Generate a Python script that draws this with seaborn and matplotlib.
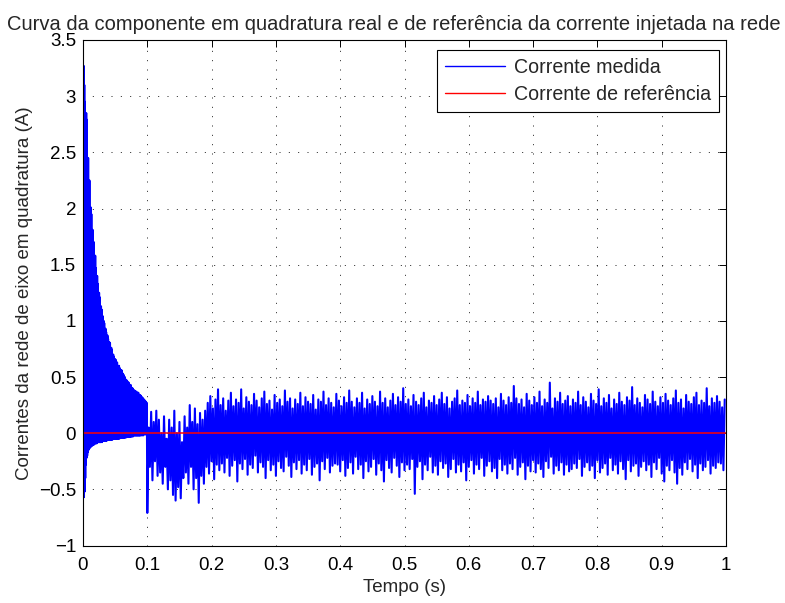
import numpy as np
import pandas as pd
import matplotlib
matplotlib.use("Agg")
import matplotlib.pyplot as plt
import seaborn as sns

# ---- data ----
# transient (0 .. 0.1 s): peaks every 1 ms, troughs half a ms later
trans_hi = [0.35, 3.27, 3.1, 2.95, 2.6, 2.85, 2.79, 2.3, 2.45, 2.15,
            2.25, 1.9, 2.01, 1.95, 1.7, 1.81, 1.62, 1.7, 1.5, 1.58,
            1.47, 1.3, 1.4, 1.33, 1.15, 1.25, 1.21, 1.05, 1.13, 1.1,
            0.95, 1.04, 1.0, 0.98, 0.85, 0.93, 0.9, 0.78, 0.87, 0.84,
            0.72, 0.81, 0.8, 0.7, 0.76, 0.74, 0.62, 0.7, 0.68, 0.58,
            0.66, 0.65, 0.55, 0.63, 0.6, 0.5, 0.6, 0.58, 0.47, 0.56,
            0.56, 0.45, 0.53, 0.52, 0.42, 0.5, 0.48, 0.4, 0.47, 0.46,
            0.38, 0.45, 0.43, 0.36, 0.43, 0.41, 0.33, 0.4, 0.39, 0.3,
            0.38, 0.37, 0.3, 0.37, 0.36, 0.28, 0.36, 0.34, 0.27, 0.34,
            0.33, 0.26, 0.32, 0.31, 0.24, 0.3, 0.29, 0.23, 0.28, 0.27]
trans_lo = [-0.32, -0.57, -0.52, -0.4, -0.28, -0.22, -0.2, -0.17, -0.15, -0.14,
            -0.13, -0.12, -0.12, -0.11, -0.11, -0.1, -0.1, -0.1, -0.09, -0.09,
            -0.09, -0.09, -0.08, -0.08, -0.08, -0.08, -0.08, -0.08, -0.07, -0.08,
            -0.07, -0.07, -0.07, -0.07, -0.07, -0.06, -0.07, -0.06, -0.06, -0.06,
            -0.06, -0.06, -0.06, -0.06, -0.05, -0.06, -0.05, -0.05, -0.05, -0.05,
            -0.05, -0.05, -0.05, -0.05, -0.05, -0.04, -0.05, -0.04, -0.04, -0.04,
            -0.04, -0.04, -0.04, -0.04, -0.04, -0.03, -0.04, -0.03, -0.03, -0.03,
            -0.03, -0.03, -0.03, -0.03, -0.03, -0.03, -0.02, -0.03, -0.02, -0.02,
            -0.02, -0.02, -0.02, -0.02, -0.02, -0.02, -0.02, -0.02, -0.02, -0.02,
            -0.01, -0.02, -0.01, -0.02, -0.01, -0.01, -0.01, -0.01, -0.01, -0.01]

# after 0.1 s: troughs every 4 ms from 0.100 s, peaks 2 ms later
post_lo = [-0.71, -0.3, -0.42, -0.25, -0.38,
           -0.35, -0.45, -0.3, -0.5, -0.42, -0.55, -0.6, -0.48, -0.58, -0.4,
           -0.35, -0.45, -0.3, -0.5, -0.4, -0.62, -0.38, -0.45,
           -0.3, -0.36, -0.25, -0.41, -0.28, -0.33, -0.27, -0.35, -0.22, -0.38,
           -0.29, -0.24, -0.43, -0.27, -0.32, -0.23, -0.37, -0.28, -0.31, -0.2,
           -0.35, -0.26, -0.3, -0.4, -0.24, -0.33, -0.28, -0.38, -0.25, -0.31,
           -0.34, -0.21, -0.29, -0.39, -0.26, -0.32, -0.24, -0.36, -0.28, -0.33,
           -0.23, -0.37, -0.3, -0.27, -0.42, -0.25, -0.32, -0.22, -0.35, -0.29,
           -0.27, -0.28, -0.34, -0.24, -0.38, -0.31, -0.26, -0.36, -0.21, -0.32,
           -0.28, -0.4, -0.25, -0.34, -0.3, -0.23, -0.37, -0.27, -0.33, -0.43,
           -0.24, -0.31, -0.35, -0.22, -0.29, -0.39, -0.26, -0.33, -0.28, -0.32,
           -0.23, -0.54, -0.3, -0.25, -0.41, -0.28, -0.33, -0.21, -0.35, -0.29,
           -0.37, -0.25, -0.31, -0.27, -0.39, -0.32, -0.23, -0.35, -0.28, -0.34,
           -0.26, -0.42, -0.3, -0.24, -0.36, -0.28, -0.32, -0.22, -0.38, -0.29,
           -0.25, -0.34, -0.31, -0.4, -0.23, -0.33, -0.28, -0.36, -0.27, -0.32,
           -0.22, -0.37, -0.3, -0.26, -0.41, -0.29, -0.34, -0.24, -0.35, -0.27,
           -0.32, -0.39, -0.25, -0.31, -0.21, -0.36, -0.29, -0.33, -0.26, -0.37,
           -0.28, -0.34, -0.32, -0.27, -0.31, -0.23, -0.38, -0.3, -0.26, -0.33,
           -0.29, -0.4, -0.24, -0.35, -0.31, -0.27, -0.37, -0.22, -0.33, -0.28,
           -0.36, -0.25, -0.32, -0.41, -0.24, -0.34, -0.29, -0.27, -0.38, -0.3,
           -0.25, -0.33, -0.28, -0.39, -0.26, -0.32, -0.22, -0.36, -0.43, -0.29,
           -0.33, -0.24, -0.35, -0.45, -0.31, -0.37, -0.26, -0.32, -0.23, -0.34,
           -0.28, -0.4, -0.27, -0.33, -0.3, -0.24, -0.36, -0.29, -0.31, -0.26,
           -0.27, -0.33]
post_hi = [0.05, 0.19, 0.1, 0.2, 0.12,
           0.0, 0.15, -0.05, 0.12, 0.05, 0.2, 0.0, 0.1, -0.08, 0.15,
           0.05, 0.25, 0.1, 0.22, 0.08, 0.18, 0.12, 0.2,
           0.27, 0.33, 0.22, 0.3, 0.39, 0.25, 0.31, 0.2, 0.29, 0.36,
           0.24, 0.3, 0.27, 0.39, 0.22, 0.32, 0.28, 0.25, 0.35, 0.29,
           0.23, 0.31, 0.37, 0.26, 0.29, 0.21, 0.34, 0.27, 0.3, 0.24,
           0.38, 0.28, 0.31, 0.22, 0.3, 0.26, 0.36, 0.24, 0.32, 0.28,
           0.26, 0.34, 0.21, 0.3, 0.28, 0.37, 0.25, 0.31, 0.27, 0.23,
           0.35, 0.29, 0.24, 0.32, 0.27, 0.38, 0.28, 0.23, 0.31, 0.27,
           0.36, 0.22, 0.3, 0.26, 0.33, 0.28, 0.24, 0.37, 0.27, 0.31,
           0.23, 0.29, 0.35, 0.25, 0.32, 0.28, 0.4, 0.26, 0.3, 0.24,
           0.34, 0.28, 0.25, 0.31, 0.36, 0.23, 0.29, 0.27, 0.33, 0.25,
           0.3, 0.36, 0.26, 0.32, 0.22, 0.28, 0.31, 0.38, 0.25, 0.29,
           0.27, 0.34, 0.24, 0.31, 0.27, 0.37, 0.25, 0.3, 0.28, 0.33,
           0.29, 0.26, 0.31, 0.23, 0.35, 0.29, 0.25, 0.32, 0.27, 0.42,
           0.31, 0.26, 0.3, 0.23, 0.35, 0.29, 0.25, 0.32, 0.27, 0.37,
           0.24, 0.3, 0.27, 0.45, 0.22, 0.31, 0.28, 0.36, 0.26, 0.29,
           0.33, 0.24, 0.3, 0.27, 0.37, 0.25, 0.32, 0.28, 0.23, 0.35,
           0.29, 0.26, 0.39, 0.24, 0.31, 0.27, 0.34, 0.22, 0.3, 0.26,
           0.36, 0.28, 0.25, 0.32, 0.29, 0.41, 0.25, 0.31, 0.27, 0.23,
           0.34, 0.3, 0.26, 0.37, 0.28, 0.24, 0.32, 0.27, 0.35, 0.29,
           0.25, 0.31, 0.38, 0.27, 0.3, 0.22, 0.34, 0.28, 0.26, 0.32,
           0.36, 0.25, 0.29, 0.27, 0.4, 0.24, 0.31, 0.27, 0.33, 0.28,
           0.23, 0.3]

ref_t = [0.0, 1.0]
ref_val = [0.0, 0.0]

title = "Curva da componente em quadratura real e de referência da corrente injetada na rede"
xlabel = "Tempo (s)"
ylabel = "Correntes da rede de eixo em quadratura (A)"
lbl_med = "Corrente medida"
lbl_ref = "Corrente de referência"
xticks = [0, 0.1, 0.2, 0.3, 0.4, 0.5, 0.6, 0.7, 0.8, 0.9, 1]
xticklabels = ["0", "0.1", "0.2", "0.3", "0.4", "0.5", "0.6", "0.7", "0.8", "0.9", "1"]
yticks = [-1, -0.5, 0, 0.5, 1, 1.5, 2, 2.5, 3, 3.5]
yticklabels = ["\u22121", "\u22120.5", "0", "0.5", "1", "1.5", "2", "2.5", "3", "3.5"]

# ---- build sample table ----
t_list, v_list = [], []
for k, (h, l) in enumerate(zip(trans_hi, trans_lo)):
    t_list += [0.001 * k, 0.001 * k + 0.0005]
    v_list += [h, l]
for k, (l, h) in enumerate(zip(post_lo, post_hi)):
    t_list += [0.100 + 0.004 * k, 0.102 + 0.004 * k]
    v_list += [l, h]
df_med = pd.DataFrame({"t": t_list, "I": v_list, "serie": lbl_med}).sort_values("t")
df_ref = pd.DataFrame({"t": ref_t, "I": ref_val, "serie": lbl_ref})

sns.set_style("white")
plt.rcParams["font.family"] = ["Liberation Sans", "DejaVu Sans"]
FS = 13.5
FS_T = 14.5
FS_L = 14.1

fig = plt.figure(figsize=(7.85, 6.03), dpi=100)
ax = fig.add_axes([83 / 785, (603 - 545.5) / 603, 643 / 785, 505.5 / 603])

sns.lineplot(data=df_med, x="t", y="I", color="#0000ff", label=lbl_med,
             estimator=None, sort=False, linewidth=1.5, ax=ax)
sns.lineplot(data=df_ref, x="t", y="I", color="#ff0000", label=lbl_ref,
             estimator=None, sort=False, linewidth=1.1, ax=ax)

ax.set_xlim(0, 1)
ax.set_ylim(-1, 3.5)
ax.set_xticks(xticks)
ax.set_xticklabels(xticklabels)
ax.set_yticks(yticks)
ax.set_yticklabels(yticklabels)
ax.tick_params(direction="in", length=5, width=0.7, top=True, right=True,
               labelsize=FS, colors="black")
ax.tick_params(axis="x", pad=8.5)
ax.tick_params(axis="y", pad=5)
ax.grid(True, color="black", linestyle=(0, (1.2, 10)), linewidth=0.6)
for s in ax.spines.values():
    s.set_visible(True)
    s.set_color("black")
    s.set_linewidth(0.8)

ax.set_xlabel(xlabel, fontsize=FS, labelpad=3.5)
ax.set_ylabel(ylabel, fontsize=FS, labelpad=4.5)
ax.set_title(title, fontsize=FS_T, pad=7.5, x=(394 - 83) / 643)

leg = ax.legend(loc="upper right", bbox_to_anchor=(0.9891, 0.9802), fontsize=FS_L,
                frameon=True, fancybox=False, handlelength=3.06, borderpad=0.4,
                labelspacing=0.42, handletextpad=0.46, borderaxespad=0)
leg.get_frame().set_edgecolor("black")
leg.get_frame().set_linewidth(0.8)
leg.get_frame().set_alpha(1)
for line in leg.get_lines():
    line.set_linewidth(1.0)

fig.savefig("out.png", dpi=100)
